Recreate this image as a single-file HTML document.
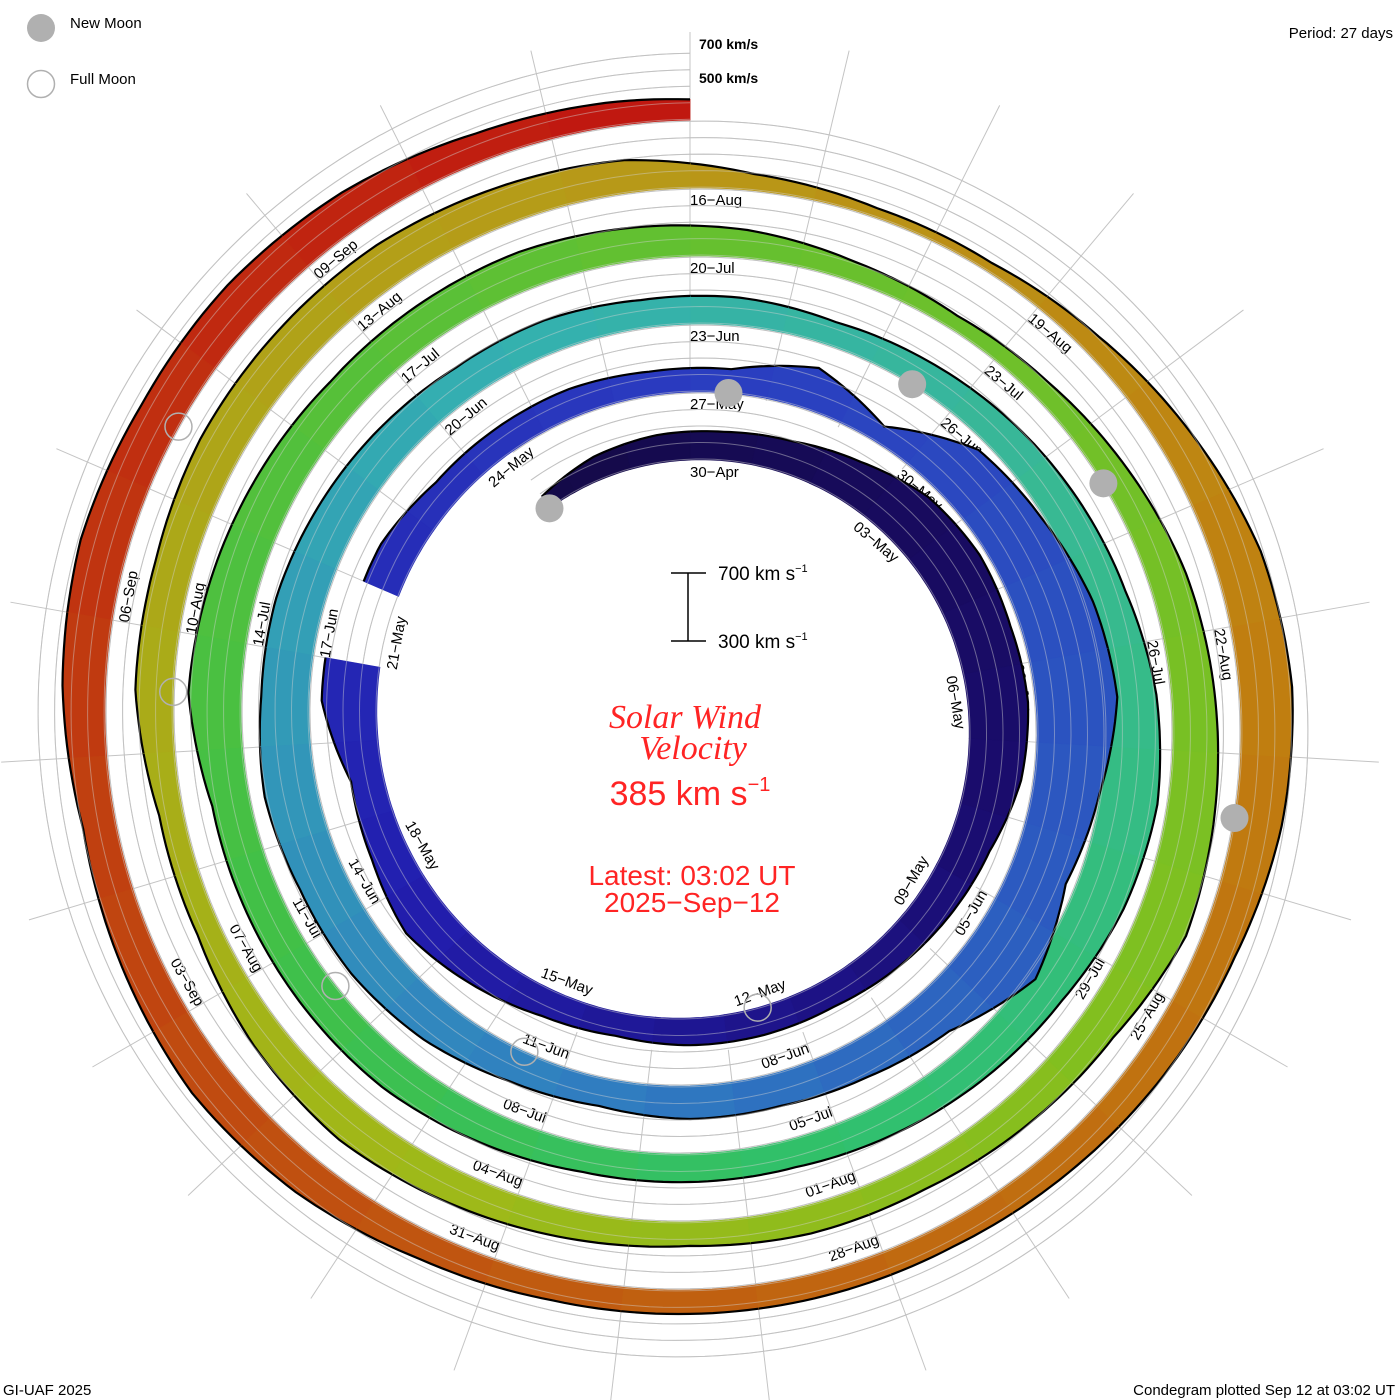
<!DOCTYPE html>
<html><head><meta charset="utf-8"><style>
html,body{margin:0;padding:0;background:#fff;}
svg{display:block;font-family:"Liberation Sans",sans-serif;}
</style></head><body>
<svg id="chart" width="1400" height="1400" viewBox="0 0 1400 1400" xmlns="http://www.w3.org/2000/svg">
<g id="spokes"></g>
<g id="labels"></g>
<g id="bands"></g>
<g id="guides"></g>
<g id="moons"></g>
<g>
 <circle cx="41" cy="28" r="14" fill="#b0b0b0"/>
 <text x="70" y="28" font-size="15">New Moon</text>
 <circle cx="41" cy="84" r="13.5" fill="none" stroke="#b0b0b0" stroke-width="1.5"/>
 <text x="70" y="84" font-size="15">Full Moon</text>
</g>
<text x="1393" y="38" font-size="15" text-anchor="end">Period: 27 days</text>
<text x="699" y="49" font-size="14" font-weight="bold">700 km/s</text>
<text x="699" y="83" font-size="14" font-weight="bold">500 km/s</text>
<g stroke="#000" stroke-width="1.5">
 <line x1="688" y1="573" x2="688" y2="641"/><line x1="671" y1="573" x2="706" y2="573"/><line x1="671" y1="641" x2="706" y2="641"/>
</g>
<text x="718" y="580" font-size="19">700 km s<tspan font-size="11" dy="-8">−1</tspan></text>
<text x="718" y="648" font-size="19">300 km s<tspan font-size="11" dy="-8">−1</tspan></text>
<g fill="#ff2424" text-anchor="middle">
 <text x="685" y="728" font-size="34" font-style="italic" font-family="Liberation Serif, serif">Solar Wind</text>
 <text x="693" y="759" font-size="34" font-style="italic" font-family="Liberation Serif, serif">Velocity</text>
 <text x="690" y="805" font-size="34">385 km s<tspan font-size="20" dy="-14">−1</tspan></text>
 <text x="692" y="885" font-size="28">Latest: 03:02 UT</text>
 <text x="692" y="912" font-size="28">2025−Sep−12</text>
</g>
<text x="3" y="1395" font-size="15">GI-UAF 2025</text>
<text x="1395" y="1395" font-size="15" text-anchor="end">Condegram plotted Sep 12 at 03:02 UT</text>
</svg>
<script>
// Data: daily solar wind speeds (km/s), starting 27-Apr-2025
const startDate = "2025-04-27";
const speeds = [380,440,465,470,495,555,640,665,650,660,630,555,525,495,465,465,460,440,465,525,585,525,495,630,null,525,465,465,465,440,
440,555,400,645,690,760,790,700,645,760,580,525,495,495,465,495,555,585,585,615,585,585,555,525,495,495,465,
465,440,465,495,525,555,615,645,615,555,525,495,465,465,465,495,525,525,525,525,615,585,555,525,525,525,495,
465,410,380,410,465,525,555,585,615,525,495,465,465,440,465,495,525,495,440,440,525,525,555,555,555,525,495,
395,350,350,410,495,585,615,585,525,495,465,440,440,440,440,465,525,555,525,495,555,585,555,555,525,465,440,400];
const newMoons = ["2025-04-27","2025-05-27","2025-06-25","2025-07-24","2025-08-23"];
const fullMoons = ["2025-05-12","2025-06-11","2025-07-10","2025-08-09","2025-09-07"];
const guideLevels = [300,400,500,600,700];

const CX=690, CY=722, A=262, PITCH=68, PERIOD=27, VBASE=295, SCALE=0.165;
const T0=Date.UTC(2025,3,30);
const DAY=86400000;
const tStart=-2.5, tEnd=135.0;
const off0=(Date.UTC(2025,3,27)-T0)/DAY;
function rBase(t){return A+PITCH*t/PERIOD;}
function ang(t){return t/PERIOD*2*Math.PI;}
function pt(t,r){const a=ang(t);return [CX+r*Math.sin(a),CY-r*Math.cos(a)];}
function speedAt(t){
  const x=t-off0-0.5; let i=Math.floor(x); let f=x-i;
  const n=speeds.length;
  const g=k=>{k=Math.max(0,Math.min(n-1,k));return speeds[k];};
  let a=g(i),b=g(i+1); if(a==null)a=b; if(b==null)b=a; return a+(b-a)*f;
}
function thick(v){return Math.max(0,(v-VBASE)*SCALE);}
const stops=[[-3,[20,10,70]],[8,[26,12,110]],[18,[34,30,175]],[27,[42,60,192]],[36,[44,92,192]],[42,[48,128,192]],[52,[52,176,176]],[58,[56,184,150]],[66,[48,192,108]],[72,[64,192,72]],[81,[100,192,48]],[90,[128,192,32]],[97,[160,184,24]],[108,[184,152,24]],[114,[192,128,16]],[120,[192,104,16]],[126,[192,72,16]],[136,[192,16,16]]];
function color(t){
  for(let i=0;i<stops.length-1;i++){const [a,ca]=stops[i],[b,cb]=stops[i+1];
    if(t<=b||i==stops.length-2){let f=Math.max(0,Math.min(1,(t-a)/(b-a)));
      return `rgb(${ca.map((c,k)=>Math.round(c+(cb[k]-c)*f)).join(',')})`;}}
}
const NS="http://www.w3.org/2000/svg";
function mk(tag,attrs,parent){const e=document.createElementNS(NS,tag);for(const k in attrs)e.setAttribute(k,attrs[k]);parent.appendChild(e);return e;}

const sp=document.getElementById('spokes');
for(let k=0;k<27;k++){const a=k/27*2*Math.PI;
  const l=mk('line',{x1:CX+330*Math.sin(a),y1:CY-330*Math.cos(a),x2:CX+690*Math.sin(a),y2:CY-690*Math.cos(a),stroke:'#c4c4c4','stroke-width':1},sp);
  
  
}
function guidePath(v){let d='';for(let t=tStart;t<=tEnd+0.001;t+=0.1){const p=pt(t,rBase(t)+thick(v));d+=(d?'L':'M')+p[0].toFixed(1)+','+p[1].toFixed(1);}return d;}
const gd=document.getElementById('guides');
const bandsG=document.getElementById('bands');
guideLevels.forEach(v=>{
  const g=mk('path',{d:guidePath(v),fill:'none',stroke:'#b4b4b4','stroke-width':1},bandsG);
  
  
});
for(let d=speeds.length-1;d>=0;d--){
  if(speeds[d]==null)continue;
  const t0=Math.max(tStart,off0+d), t1=Math.min(tEnd,off0+d+1);
  if(t1<=t0)continue;
  const inner=[],outer=[];
  const N=12;
  for(let j=0;j<=N;j++){const t=t0+(t1-t0)*j/N;inner.push(pt(t,rBase(t)));outer.push(pt(t,rBase(t)+thick(speedAt(t))));}
  const pts=outer.concat(inner.reverse()).map(p=>p[0].toFixed(1)+','+p[1].toFixed(1)).join(' ');
  const poly=mk('polygon',{points:pts,fill:color((t0+t1)/2),stroke:color((t0+t1)/2),'stroke-width':0.8},bandsG);
  
  
  let dd='';outer.forEach(p=>{dd+=(dd?'L':'M')+p[0].toFixed(1)+','+p[1].toFixed(1);});
  const e=mk('path',{d:dd,fill:'none',stroke:'#000','stroke-width':2.2},bandsG);
  
  
}
guideLevels.forEach(v=>{
  const g=mk('path',{d:guidePath(v),fill:'none',stroke:'rgba(210,210,210,0.45)','stroke-width':1},gd);
  
  
});
const lab=document.getElementById('labels');
const mon=['Jan','Feb','Mar','Apr','May','Jun','Jul','Aug','Sep','Oct','Nov','Dec'];
for(let t=0;t<=132;t+=3){
  const dt=new Date(T0+t*DAY);
  const s=String(dt.getUTCDate()).padStart(2,'0')+'-'+mon[dt.getUTCMonth()];
  const a=(t/PERIOD*360)%360;
  const p=pt(t,rBase(t)-13);
  const bottom=a>90&&a<270;
  const rot=bottom?a-180:a;
  const tx=mk('text',{x:p[0].toFixed(1),y:p[1].toFixed(1),'font-size':15,'text-anchor':bottom?'end':'start','dominant-baseline':'middle',transform:`rotate(${rot.toFixed(1)} ${p[0].toFixed(1)} ${p[1].toFixed(1)})`},lab);
  tx.textContent=s.replace('-','−');
  
  
}
const mg=document.getElementById('moons');
function moonT(s){const [y,m,d]=s.split('-').map(Number);return (Date.UTC(y,m-1,d)-T0)/DAY+0.5;}
newMoons.forEach(s=>{const t=moonT(s);const p=pt(t,rBase(t));
  const c=mk('circle',{cx:p[0],cy:p[1],r:14,fill:'#b0b0b0'},mg);
  
  });
fullMoons.forEach(s=>{const t=moonT(s);const p=pt(t,rBase(t));
  const c=mk('circle',{cx:p[0],cy:p[1],r:13.5,fill:'none',stroke:'#b0b0b0','stroke-width':1.5},mg);
  
  });
</script>
</body></html>
